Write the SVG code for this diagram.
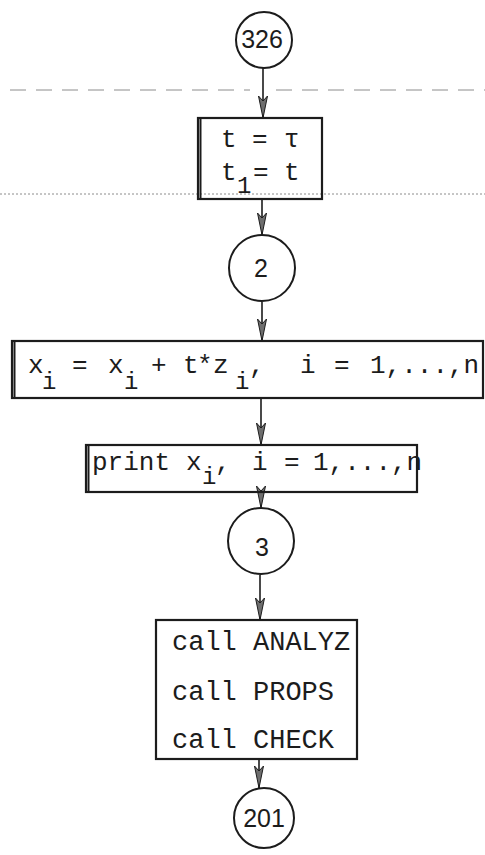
<svg xmlns="http://www.w3.org/2000/svg" width="485" height="855" viewBox="0 0 485 855">
  <style>
    .ink { stroke: #1c1c1c; fill: none; stroke-width: 2; }
    .box { stroke: #1c1c1c; fill: none; stroke-width: 2.2; }
    .tt { font-family: "Liberation Mono", "DejaVu Sans Mono", monospace; font-size: 26px; fill: #1c1c1c; }
    .call { font-family: "Liberation Mono", "DejaVu Sans Mono", monospace; font-size: 27px; fill: #1c1c1c; }
    .sub { font-size: 24px; }
    .num { font-family: "Liberation Sans", "DejaVu Sans", sans-serif; font-size: 25px; fill: #1c1c1c; text-anchor: middle; }
    .edge { stroke: #1c1c1c; stroke-width: 1.6; fill: none; marker-end: url(#head); }
    .rule { stroke: #8c8c8c; stroke-width: 1; fill: none; }
  </style>
  <defs>
    <marker id="head" markerUnits="userSpaceOnUse" viewBox="-24 -6 25 12" refX="0" refY="0" markerWidth="25" markerHeight="12" orient="auto">
      <path d="M0,0 L-22,-4.5 L-17,0 L-22,4.5 Z" fill="#6e6e6e" stroke="#1c1c1c" stroke-width="1"/>
    </marker>
  </defs>
  <rect x="0" y="0" width="485" height="855" fill="#ffffff"/>

  <!-- faint ruled lines of the sheet -->
  <g id="sheet-rules">
    <path class="rule" d="M10,90 H250 M276,90 H485" stroke-dasharray="16 10"/>
    <path class="rule" d="M0,194 H485" stroke="#b0b0b0" stroke-dasharray="2 2"/>
  </g>

  <!-- connectors -->
  <g id="connectors">
    <line class="edge" x1="263" y1="68" x2="263" y2="118"/>
    <line class="edge" x1="262" y1="199" x2="262" y2="235"/>
    <line class="edge" x1="262" y1="302" x2="262" y2="341"/>
    <line class="edge" x1="261" y1="398" x2="261" y2="445"/>
    <line class="edge" x1="261" y1="492" x2="261" y2="508"/>
    <line class="edge" x1="260" y1="575" x2="260" y2="620"/>
    <line class="edge" x1="259" y1="759" x2="259" y2="788"/>
  </g>

  <g id="c326">
    <circle class="ink" cx="264" cy="40" r="28"/>
    <text class="num" x="262" y="48">326</text>
  </g>

  <g id="assign-t">
    <rect class="box" x="198" y="118" width="124" height="81"/>
    <line class="ink" x1="200.5" y1="118" x2="200.5" y2="199"/>
    <text class="tt" y="147"><tspan x="221">t</tspan><tspan x="252">=</tspan><tspan x="284">τ</tspan></text>
    <text class="tt" y="180"><tspan x="221">t</tspan><tspan class="sub" x="237" y="193">1</tspan><tspan x="253" y="180">=</tspan><tspan x="284">t</tspan></text>
  </g>

  <g id="c2">
    <circle class="ink" cx="262" cy="268" r="33"/>
    <text class="num" x="261" y="277">2</text>
  </g>

  <g id="update-x">
    <rect class="box" x="12" y="341" width="471" height="57"/>
    <line class="ink" x1="14.5" y1="341" x2="14.5" y2="398"/>
    <text class="tt" y="373"><tspan x="28">x</tspan><tspan class="sub" x="42" y="389">i</tspan><tspan x="72" y="373">=</tspan><tspan x="108">x</tspan><tspan class="sub" x="124" y="389">i</tspan><tspan x="151" y="373">+</tspan><tspan x="183">t</tspan><tspan x="197">*</tspan><tspan x="213">z</tspan><tspan class="sub" x="235" y="389">i</tspan><tspan x="249" y="373">,</tspan><tspan x="300">i</tspan><tspan x="334">=</tspan><tspan x="370">1,...,n</tspan></text>
  </g>

  <g id="print-x">
    <rect class="box" x="86" y="445" width="331" height="47"/>
    <line class="ink" x1="88.5" y1="445" x2="88.5" y2="492"/>
    <text class="tt" y="470"><tspan x="92">print</tspan><tspan x="186">x</tspan><tspan class="sub" x="202" y="484">i</tspan><tspan x="215" y="470">,</tspan><tspan x="252">i</tspan><tspan x="284">=</tspan><tspan x="313">1,...,n</tspan></text>
  </g>

  <g id="c3">
    <circle class="ink" cx="261" cy="541" r="33"/>
    <text class="num" x="262" y="556">3</text>
  </g>

  <g id="calls">
    <rect class="box" x="156" y="620" width="201" height="139"/>
    <text class="call" x="172" y="650">call ANALYZ</text>
    <text class="call" x="172" y="700">call PROPS</text>
    <text class="call" x="172" y="748">call CHECK</text>
  </g>

  <g id="c201">
    <circle class="ink" cx="264" cy="818" r="30"/>
    <text class="num" x="264" y="827">201</text>
  </g>
</svg>
